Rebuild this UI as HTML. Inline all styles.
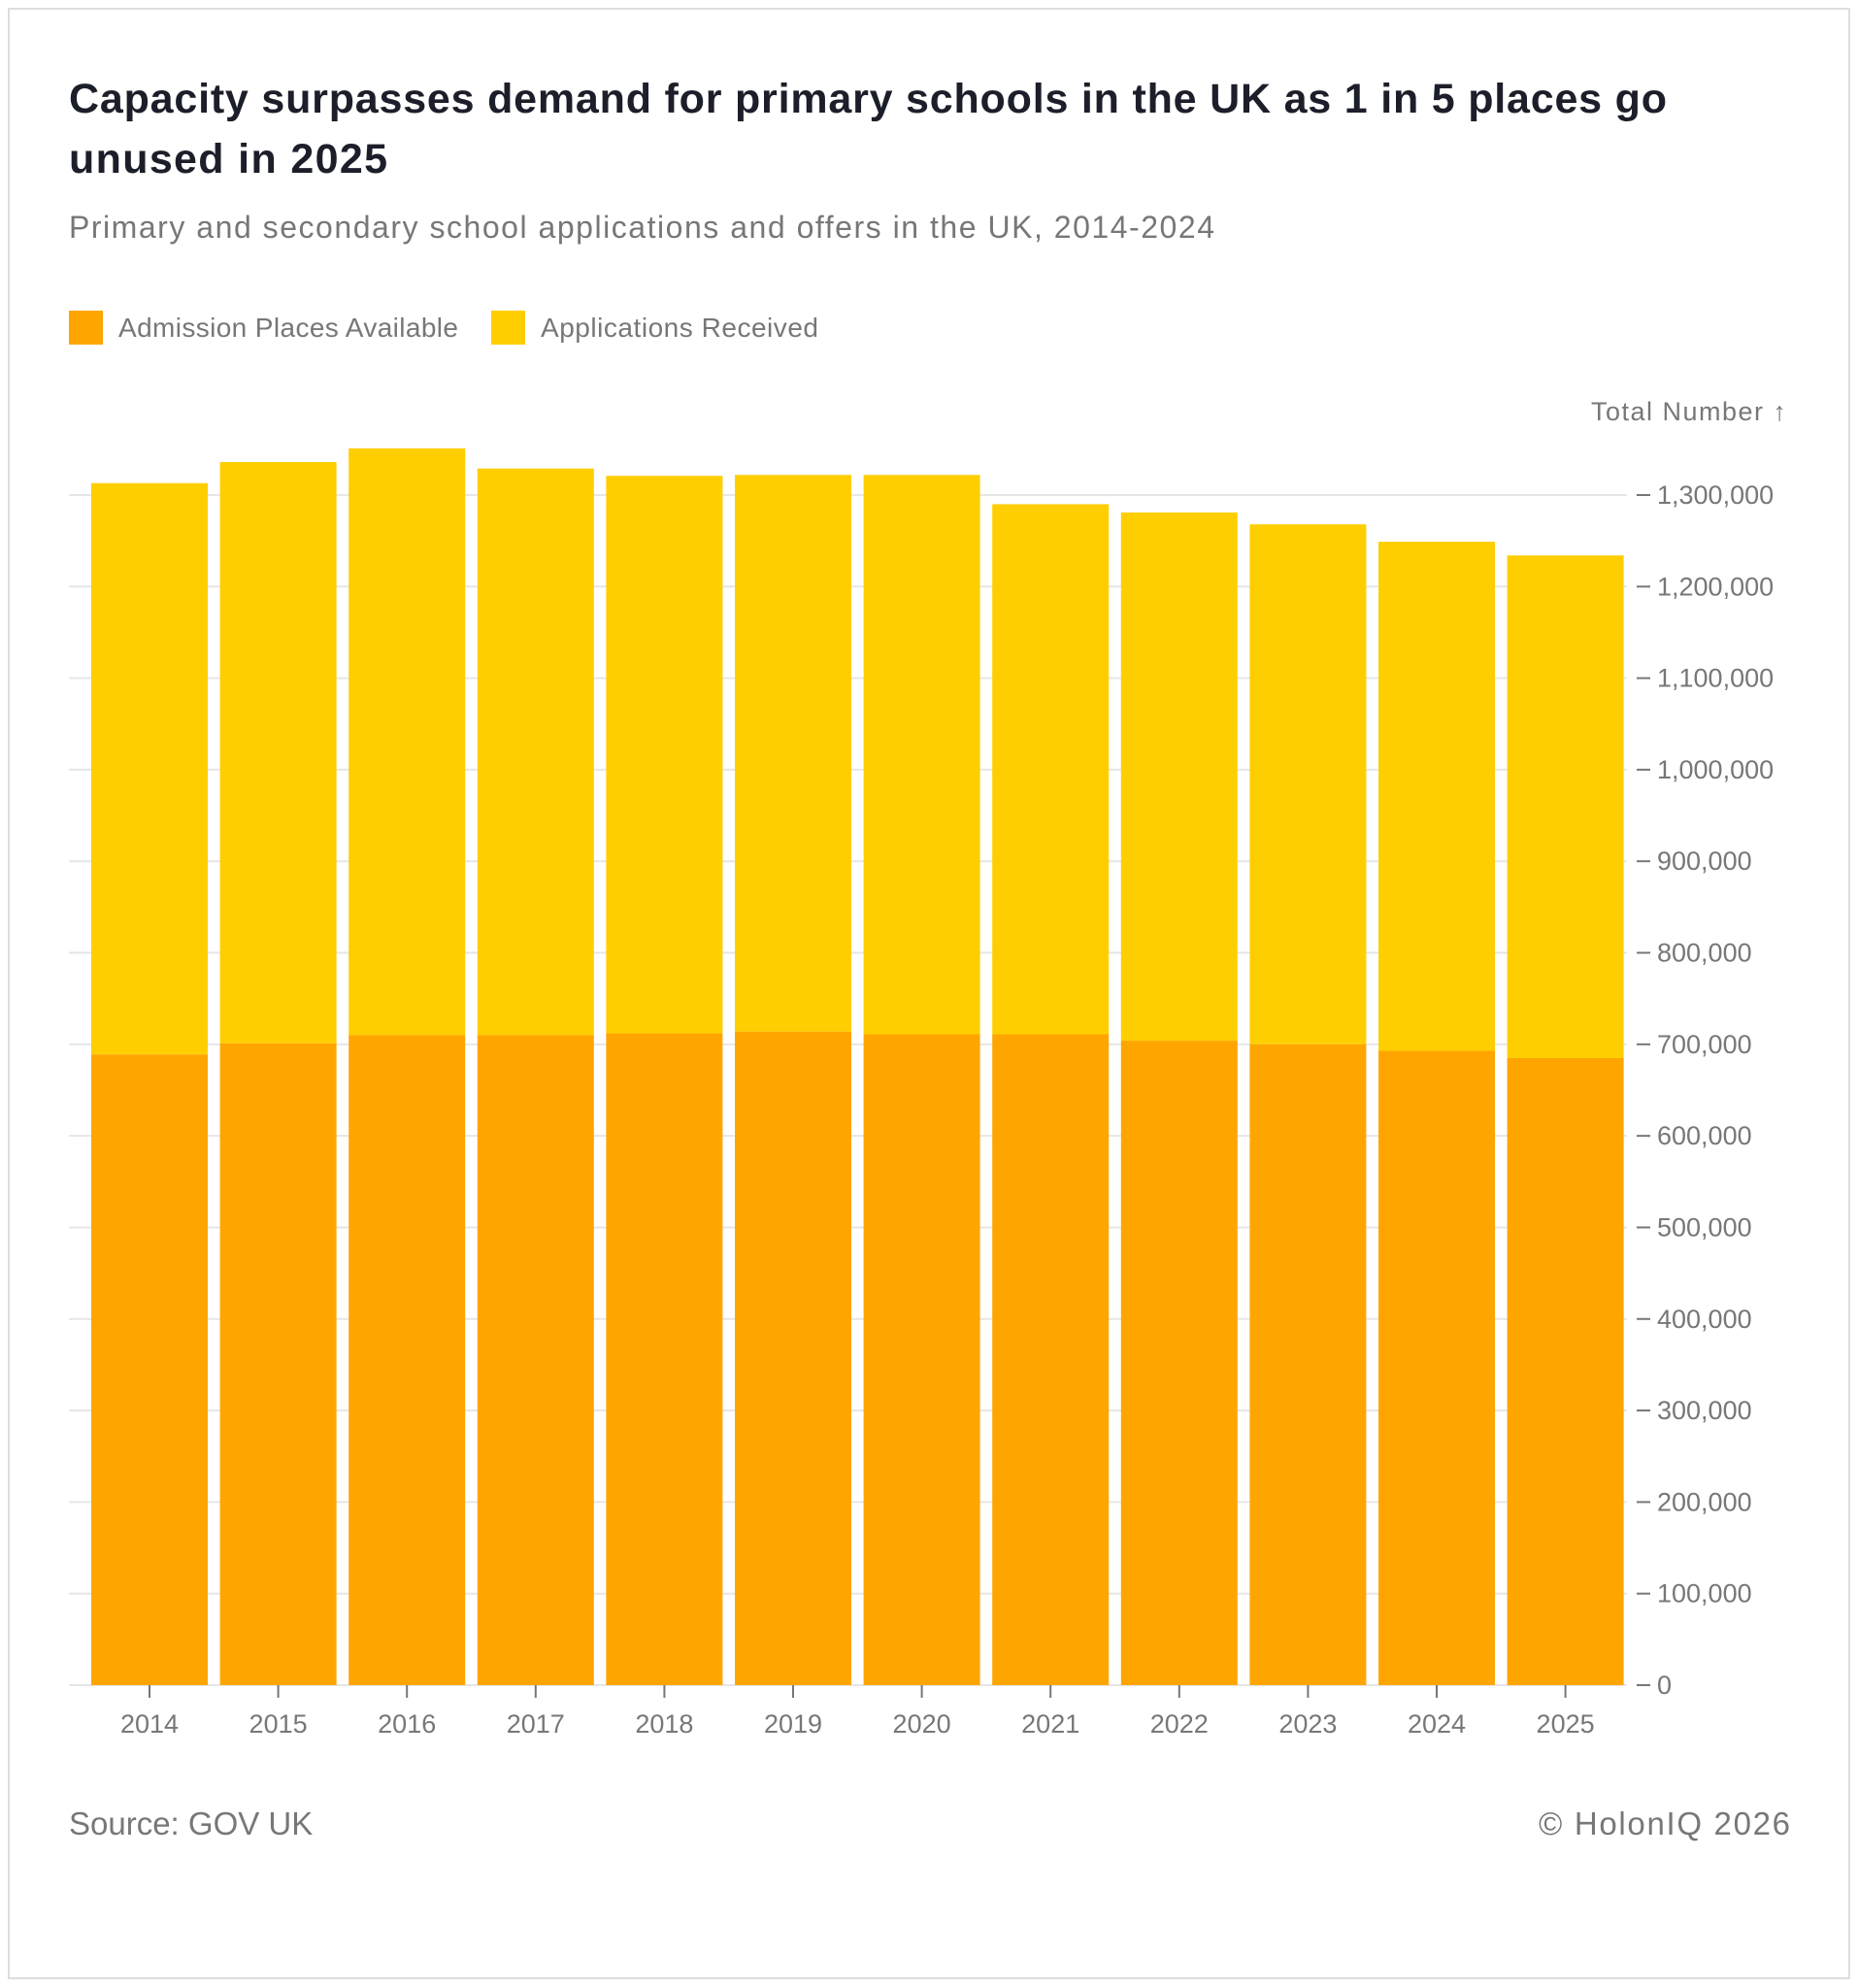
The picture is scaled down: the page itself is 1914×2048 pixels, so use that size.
<!DOCTYPE html>
<html><head><meta charset="utf-8"><style>
body{margin:0;background:#fff;font-family:"Liberation Sans",sans-serif}
#frame{position:absolute;left:8px;top:8px;width:1898px;height:2031px;border:2px solid #ddd;box-sizing:border-box}
</style></head><body>
<div id="frame"></div>
<svg width="1914" height="2048" style="position:absolute;left:0;top:0" id="svg">
<text x="71" y="116" font-size="43" font-weight="bold" fill="#1c1f2a" textLength="1646" lengthAdjust="spacing">Capacity surpasses demand for primary schools in the UK as 1 in 5 places go</text>
<text x="71" y="178" font-size="43" font-weight="bold" fill="#1c1f2a" textLength="328" lengthAdjust="spacing">unused in 2025</text>
<text x="71" y="245" font-size="32" fill="#777" textLength="1180" lengthAdjust="spacing">Primary and secondary school applications and offers in the UK, 2014-2024</text>
<rect x="71" y="320" width="35" height="35" fill="#FFA500"/>
<text x="122" y="347" font-size="28" fill="#777" textLength="350" lengthAdjust="spacing">Admission Places Available</text>
<rect x="506" y="320" width="35" height="35" fill="#FFCE00"/>
<text x="557" y="347" font-size="28" fill="#777" textLength="286" lengthAdjust="spacing">Applications Received</text>
<text x="1639" y="433" font-size="27" fill="#777" textLength="201" lengthAdjust="spacing">Total Number ↑</text>
<g id="grid"></g><g id="bars"></g><g id="axes"></g>
<text x="71" y="1890" font-size="33" fill="#777">Source: GOV UK</text>
<text x="1585" y="1890" font-size="33" fill="#777" textLength="259" lengthAdjust="spacing">© HolonIQ 2026</text>
</svg>
<script>
const years=["2014","2015","2016","2017","2018","2019","2020","2021","2022","2023","2024","2025"];
const places=[689000,701000,710000,710000,712000,714000,711000,711000,704000,700000,693000,685000];
const applications=[624000,635000,641000,619000,609000,608000,611000,579000,577000,568000,556000,549000];
const yTicks=[0,100000,200000,300000,400000,500000,600000,700000,800000,900000,1000000,1100000,1200000,1300000];
const NS="http://www.w3.org/2000/svg";
const y0=1736,y1=510,vmax=1300000;
const y=v=>y0-(v/vmax)*(y0-y1);
const step=132.6,bw=120,x0=94;
const x=i=>x0+i*step;
function mk(tag,attrs,parent){const e=document.createElementNS(NS,tag);for(const k in attrs)e.setAttribute(k,attrs[k]);document.getElementById(parent).appendChild(e);return e;}
yTicks.forEach(t=>{
  const g=mk('line',{x1:71,x2:1676,y1:y(t),y2:y(t),stroke:'#e6e6e6','stroke-width':2},'grid');
  
  
  const tk=mk('line',{x1:1686,x2:1700,y1:y(t),y2:y(t),stroke:'#777','stroke-width':2},'axes');
  
  
  const tx=mk('text',{x:1707,y:y(t)+9,'font-size':27,fill:'#777'},'axes');
  tx.textContent=t.toLocaleString('en-US');
  
  
});
years.forEach((yr,i)=>{
  const b1=mk('rect',{x:x(i),y:y(places[i]),width:bw,height:y0-y(places[i]),fill:'#FFA500'},'bars');
  
  
  const top=places[i]+applications[i];
  const b2=mk('rect',{x:x(i),y:y(top),width:bw,height:y(places[i])-y(top),fill:'#FFCE00'},'bars');
  
  
  const cx=x(i)+bw/2;
  const tk=mk('line',{x1:cx,x2:cx,y1:y0,y2:y0+13,stroke:'#777','stroke-width':2},'axes');
  
  
  const tx=mk('text',{x:cx,y:1785,'font-size':27,fill:'#777','text-anchor':'middle'},'axes');
  tx.textContent=yr;
  
  
});
</script>
</body></html>
